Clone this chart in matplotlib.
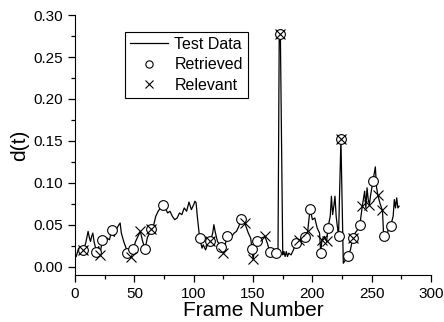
import matplotlib
matplotlib.use("Agg")
import matplotlib.pyplot as plt
import numpy as np
from matplotlib.ticker import MultipleLocator, FormatStrFormatter

plt.rcParams['font.family'] = ['Liberation Sans', 'DejaVu Sans']

# d(t) per frame
frames = [1, 3, 5, 7, 9, 11, 12, 13, 14, 15, 16, 18, 20, 21, 23, 25, 27, 29, 31,
          33, 35, 37, 38, 39, 41, 43, 44, 46, 47, 49, 51, 53, 55, 57, 59, 61, 63,
          64, 66, 68, 70, 72, 74, 76, 78, 80, 82, 84, 86, 88, 90, 92, 94, 96, 98,
          100, 101, 102, 103, 105, 107, 108, 110, 112, 114, 116, 117, 118, 120,
          122, 123, 125, 128, 130, 132, 134, 136, 138, 140, 143, 145, 146, 148,
          149, 150, 152, 153, 155, 157, 160, 162, 164, 166, 168, 169, 171, 172, 173,
          175, 176, 177, 178, 179, 180, 182, 184, 186, 188, 189, 190, 192, 194,
          196, 198, 200, 202, 204, 206, 207, 208, 210, 212, 213, 215, 216, 217,
          218, 219, 220, 222, 224, 226, 227, 230, 232, 234, 236, 238, 240, 242,
          244, 245, 246, 247, 248, 249, 251, 252, 253, 254, 255, 257, 259, 260,
          262, 264, 266, 268, 269, 270, 271, 272, 273]
d_t = [0.012, 0.022, 0.018, 0.020, 0.028, 0.042, 0.035, 0.030, 0.036, 0.040, 0.030,
       0.018, 0.024, 0.014, 0.032, 0.030, 0.034, 0.032, 0.044, 0.036, 0.045, 0.050,
       0.052, 0.040, 0.030, 0.022, 0.016, 0.020, 0.012, 0.021, 0.030, 0.036, 0.042,
       0.030, 0.021, 0.035, 0.040, 0.045, 0.048, 0.060, 0.066, 0.070, 0.074, 0.070,
       0.064, 0.066, 0.060, 0.056, 0.058, 0.064, 0.062, 0.070, 0.066, 0.077, 0.068,
       0.074, 0.078, 0.076, 0.060, 0.034, 0.022, 0.026, 0.020, 0.028, 0.030, 0.040,
       0.050, 0.042, 0.030, 0.026, 0.023, 0.016, 0.036, 0.034, 0.036, 0.040, 0.042,
       0.048, 0.057, 0.052, 0.044, 0.040, 0.034, 0.021, 0.009, 0.025, 0.031, 0.030,
       0.034, 0.036, 0.028, 0.018, 0.016, 0.020, 0.016, 0.018, 0.270, 0.277, 0.014,
       0.018, 0.012, 0.018, 0.012, 0.016, 0.014, 0.020, 0.028, 0.032, 0.032, 0.026,
       0.038, 0.035, 0.042, 0.069, 0.056, 0.058, 0.046, 0.040, 0.016, 0.032, 0.036,
       0.030, 0.046, 0.060, 0.084, 0.062, 0.072, 0.084, 0.060, 0.036, 0.152, 0.004,
       0.006, 0.013, 0.020, 0.034, 0.040, 0.044, 0.050, 0.072, 0.090, 0.070, 0.094,
       0.080, 0.074, 0.085, 0.102, 0.110, 0.119, 0.095, 0.086, 0.075, 0.067, 0.037,
       0.032, 0.045, 0.049, 0.060, 0.080, 0.070, 0.082, 0.070, 0.072]

retrieved = [7, 18, 23, 31, 44, 49, 59, 64, 74, 105, 114, 123, 128, 140, 149, 153,
             164, 169, 173, 186, 194, 198, 207, 213, 222, 224, 230, 234, 240, 251,
             260, 266]
relevant = [7, 21, 47, 55, 64, 114, 125, 143, 150, 160, 173, 189, 196, 208, 212,
            224, 234, 242, 248, 255, 259]

lookup = dict(zip(frames, d_t))

fig = plt.figure(figsize=(4.44, 3.22), dpi=100)
ax = fig.add_axes([0.169, 0.146, 0.802, 0.807])

ax.plot(frames, d_t, color='black', lw=0.9, label='Test Data')
ax.plot(retrieved, [lookup[f] for f in retrieved], 'o', ls='none', ms=7,
        mfc='white', mec='black', mew=0.8, label='Retrieved')
ax.plot(relevant, [lookup[f] for f in relevant], 'x', ls='none', ms=7,
        color='black', mew=0.8, label='Relevant')

ax.set_xlim(0, 300)
ax.set_ylim(-0.01, 0.30)
ax.xaxis.set_major_locator(MultipleLocator(50))
ax.xaxis.set_minor_locator(MultipleLocator(25))
ax.yaxis.set_major_locator(MultipleLocator(0.05))
ax.yaxis.set_minor_locator(MultipleLocator(0.025))
ax.yaxis.set_major_formatter(FormatStrFormatter('%.2f'))

for s in ['top', 'right']:
    ax.spines[s].set_visible(False)
ax.tick_params(which='major', direction='out', length=5, width=0.9, labelsize=11)
ax.tick_params(which='minor', direction='out', length=3, width=0.9)

ax.set_xlabel('Frame Number', fontsize=15, labelpad=0)
ax.set_ylabel('d(t)', fontsize=15, labelpad=3)

leg = ax.legend(loc='upper left', bbox_to_anchor=(0.14, 0.935), fontsize=11.5,
                frameon=True, fancybox=False, edgecolor='black', framealpha=1,
                handlelength=2.4, handletextpad=0.4, borderpad=0.3,
                labelspacing=0.35, markerscale=0.75, borderaxespad=0)
leg.get_frame().set_linewidth(0.8)

fig.savefig('out.png', dpi=100)
